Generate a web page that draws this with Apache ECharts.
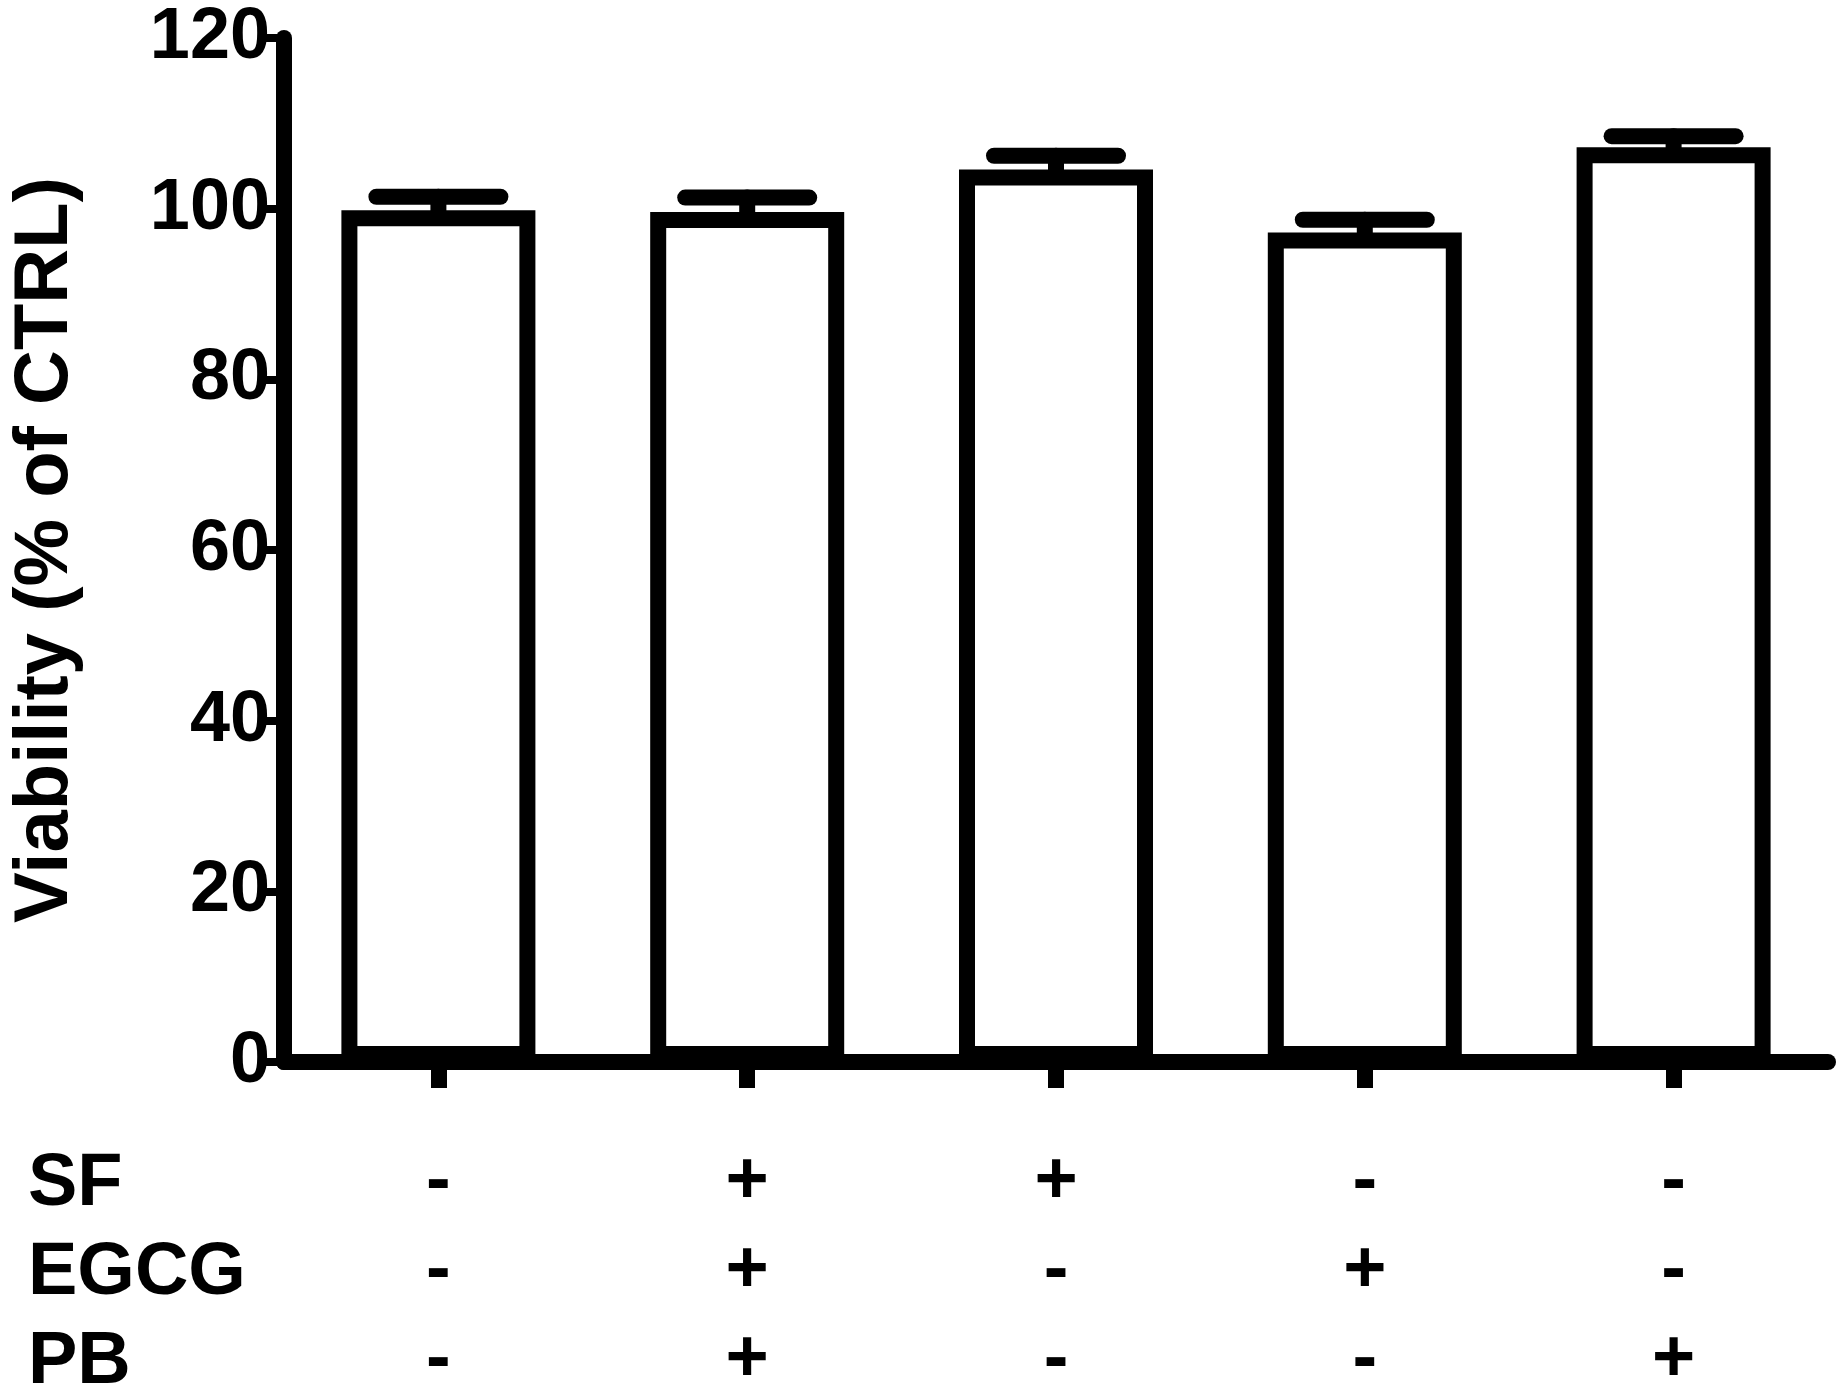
<!DOCTYPE html>
<html>
<head>
<meta charset="utf-8">
<script src="https://cdn.jsdelivr.net/npm/echarts@6/dist/echarts.min.js"></script>
<style>html,body{margin:0;background:#fff}#chart{width:1845px;height:1399px}</style>
</head>
<body>
<div id="chart"></div>
<script>
// groups and their treatment flags
const groups = ['g1', 'g2', 'g3', 'g4', 'g5'];
const sf = ['-', '+', '+', '-', '-'];
const egcg = ['-', '+', '-', '+', '-'];
const pb = ['-', '+', '-', '-', '+'];
const means = [99.8, 99.6, 104.6, 97.2, 107.2];
const sems = [1.6, 1.7, 1.6, 1.5, 1.3];
const rowNames = ['SF', 'EGCG', 'PB'];

const font = '"Liberation Sans", Arial, sans-serif';
const chart = echarts.init(document.getElementById('chart'));

chart.setOption({
    animation: false,
    grid: {left: 284, right: 17, top: 38, bottom: 337, outerBoundsMode: 'none', containLabel: false},
    xAxis: {
        type: 'category',
        data: groups,
        axisLine: {lineStyle: {color: '#000', width: 16}},
        axisTick: {show: true, alignWithLabel: true, length: 26, lineStyle: {color: '#000', width: 16}},
        axisLabel: {
            margin: 76,
            lineHeight: 89,
            fontFamily: font, fontWeight: 'bold', fontSize: 74, color: '#000',
            formatter: (v, i) => [sf[i], egcg[i], pb[i]].join('\n')
        }
    },
    yAxis: {
        type: 'value', min: 0, max: 120, interval: 20,
        name: 'Viability (% of CTRL)',
        nameLocation: 'middle', nameGap: 200, nameRotate: 90,
        nameTextStyle: {fontFamily: font, fontWeight: 'bold', fontSize: 76, color: '#000'},
        splitLine: {show: false},
        axisLine: {show: true, lineStyle: {color: '#000', width: 16}},
        axisTick: {show: true, length: 18, lineStyle: {color: '#000', width: 8}},
        axisLabel: {margin: 14, fontFamily: font, fontWeight: 'bold', fontSize: 72, color: '#000'}
    },
    graphic: rowNames.map((n, i) => ({
        type: 'text', left: 28, top: 1148 + i * 89,
        style: {text: n, font: 'bold 74px ' + font, fill: '#000'}
    })),
    series: [{
        type: 'bar',
        data: means,
        barWidth: 194,
        itemStyle: {color: '#fff', borderColor: '#000', borderWidth: 16}
    }, {
        type: 'custom',
        data: means.map((m, i) => [i, m, m + sems[i]]),
        renderItem: (params, api) => {
            const lo = api.coord([api.value(0), api.value(1)]);
            const hi = api.coord([api.value(0), api.value(2)]);
            const st = {stroke: '#000', lineWidth: 16, lineCap: 'round'};
            return {type: 'group', children: [
                {type: 'line', shape: {x1: lo[0], y1: lo[1], x2: hi[0], y2: hi[1]}, style: st},
                {type: 'line', shape: {x1: hi[0] - 62, y1: hi[1], x2: hi[0] + 62, y2: hi[1]}, style: st}
            ]};
        },
        z: 3
    }]
});
</script>
</body>
</html>
